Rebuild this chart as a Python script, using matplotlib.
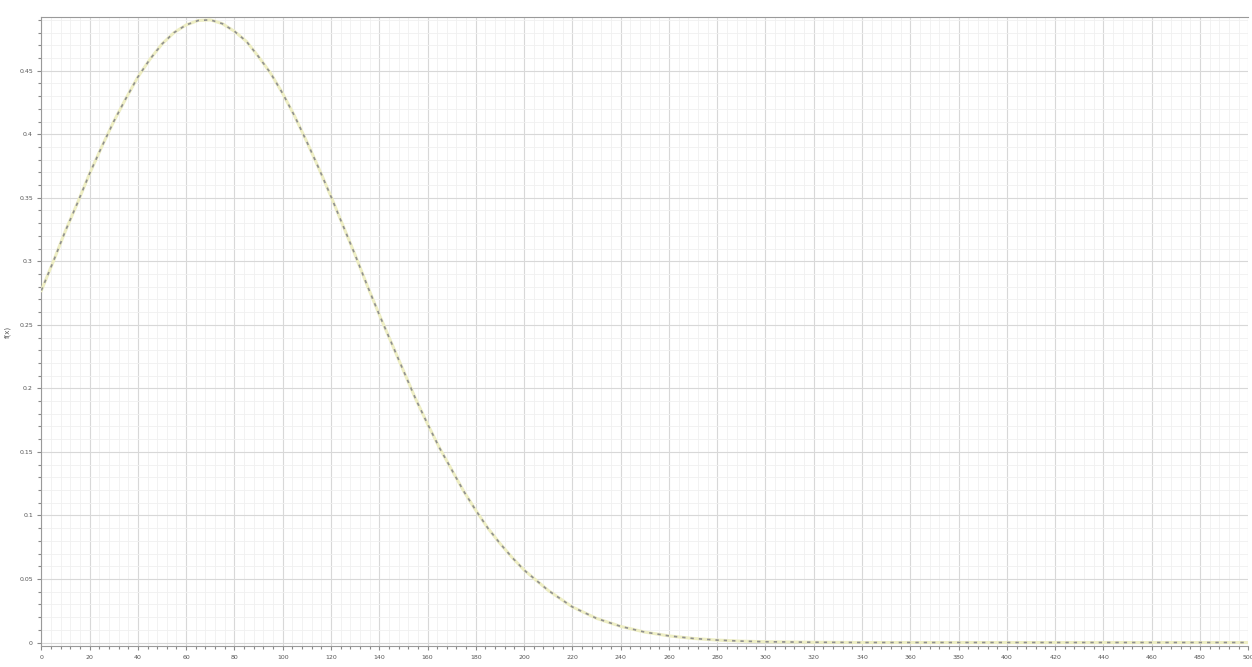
import matplotlib
matplotlib.use("Agg")
import matplotlib.pyplot as plt
from matplotlib.ticker import MultipleLocator, FormatStrFormatter

# values
x_vals = [0, 5, 10, 15, 20, 25, 30, 35, 40, 45, 50, 55, 60, 65, 70, 75, 80,
          85, 90, 95, 100, 105, 110, 115, 120, 125, 130, 135, 140, 145, 150,
          155, 160, 165, 170, 175, 180, 185, 190, 195, 200, 210, 220, 230,
          240, 250, 260, 270, 280, 290, 300, 320, 340, 360, 380, 400, 420,
          440, 460, 480, 500]
density = [0.277, 0.300, 0.324, 0.346, 0.369, 0.390, 0.410, 0.428, 0.445,
           0.459, 0.471, 0.480, 0.486, 0.4895, 0.490, 0.487, 0.481, 0.473,
           0.461, 0.448, 0.432, 0.414, 0.394, 0.373, 0.351, 0.328, 0.305,
           0.281, 0.258, 0.236, 0.214, 0.192, 0.172, 0.153, 0.136, 0.119,
           0.104, 0.090, 0.078, 0.067, 0.057, 0.041, 0.028, 0.019, 0.0127,
           0.0082, 0.0052, 0.0032, 0.0019, 0.0011, 0.0006, 0.0002, 0.0, 0.0,
           0.0, 0.0, 0.0, 0.0, 0.0, 0.0, 0.0]
x_ticks = list(range(0, 501, 20))
y_ticks = [0, 0.05, 0.1, 0.15, 0.2, 0.25, 0.3, 0.35, 0.4, 0.45]

fig = plt.figure(figsize=(12.52, 6.67), dpi=100)
ax = fig.add_axes([0.033, 0.031, 0.964, 0.944])

ax.plot(x_vals, density, color="#eeeec4", lw=2.2, zorder=3)
ax.plot(x_vals, density, color="#8f8f8f", lw=1.2, ls=(0, (2, 3)), zorder=4)

ax.set_xlim(0, 500)
ax.set_ylim(-0.003, 0.4925)
ax.set_xticks(x_ticks)
ax.set_yticks(y_ticks)
ax.xaxis.set_minor_locator(MultipleLocator(4))
ax.yaxis.set_minor_locator(MultipleLocator(0.01))
ax.yaxis.set_major_formatter(FormatStrFormatter("%g"))

ax.grid(which="major", color="#d8d8d8", lw=0.8)
ax.grid(which="minor", color="#f0f0f0", lw=0.6)
ax.set_axisbelow(True)

ax.tick_params(which="both", labelsize=4.5, labelcolor="#555555",
               color="#8a8a8a", length=3, width=0.8, pad=3)
ax.tick_params(which="minor", length=2)
for side in ["left", "bottom", "top"]:
    ax.spines[side].set_color("#9a9a9a")
ax.spines["right"].set_visible(False)

ax.set_ylabel("f(x)", fontsize=5, color="#555555", labelpad=6)

fig.savefig("out.png", dpi=100, facecolor="white")
